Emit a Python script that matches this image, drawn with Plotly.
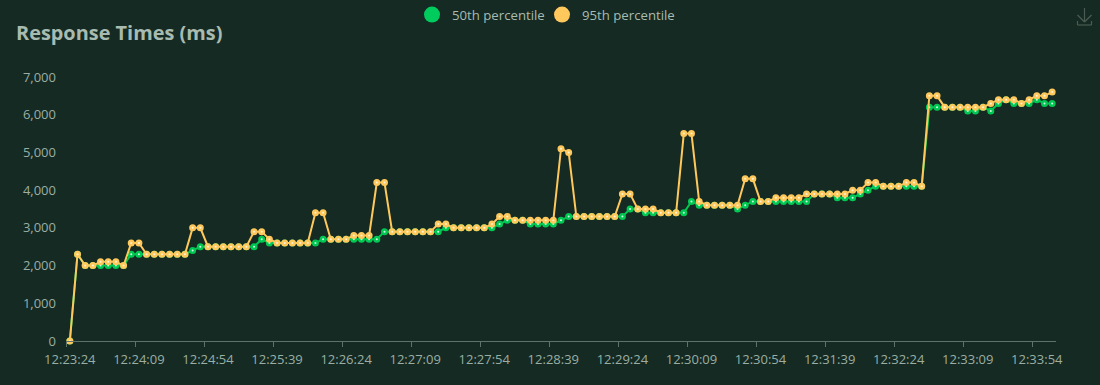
import plotly.graph_objects as go

times = []
_s = 12 * 3600 + 23 * 60 + 24
for _i in range(129):
    _t = _s + 5 * _i
    times.append(f"{_t // 3600:02d}:{_t % 3600 // 60:02d}:{_t % 60:02d}")

p50 = [0, 2300, 2000, 2000, 2000, 2000, 2000, 2000, 2300, 2300,
       2300, 2300, 2300, 2300, 2300, 2300, 2400, 2500, 2500, 2500,
       2500, 2500, 2500, 2500, 2500, 2700, 2600, 2600, 2600, 2600,
       2600, 2600, 2600, 2700, 2700, 2700, 2700, 2700, 2700, 2700,
       2700, 2900, 2900, 2900, 2900, 2900, 2900, 2900, 2900, 3000,
       3000, 3000, 3000, 3000, 3000, 3000, 3100, 3200, 3200, 3200,
       3100, 3100, 3100, 3100, 3200, 3300, 3300, 3300, 3300, 3300,
       3300, 3300, 3300, 3500, 3500, 3400, 3400, 3400, 3400, 3400,
       3400, 3700, 3600, 3600, 3600, 3600, 3600, 3500, 3600, 3700,
       3700, 3700, 3700, 3700, 3700, 3700, 3700, 3900, 3900, 3900,
       3800, 3800, 3800, 3900, 4000, 4100, 4100, 4100, 4100, 4100,
       4100, 4100, 6200, 6200, 6200, 6200, 6200, 6100, 6100, 6200,
       6100, 6300, 6400, 6300, 6300, 6300, 6400, 6300, 6300]
p95 = [0, 2300, 2000, 2000, 2100, 2100, 2100, 2000, 2600, 2600,
       2300, 2300, 2300, 2300, 2300, 2300, 3000, 3000, 2500, 2500,
       2500, 2500, 2500, 2500, 2900, 2900, 2700, 2600, 2600, 2600,
       2600, 2600, 3400, 3400, 2700, 2700, 2700, 2800, 2800, 2800,
       4200, 4200, 2900, 2900, 2900, 2900, 2900, 2900, 3100, 3100,
       3000, 3000, 3000, 3000, 3000, 3100, 3300, 3300, 3200, 3200,
       3200, 3200, 3200, 3200, 5100, 5000, 3300, 3300, 3300, 3300,
       3300, 3300, 3900, 3900, 3500, 3500, 3500, 3400, 3400, 3400,
       5500, 5500, 3700, 3600, 3600, 3600, 3600, 3600, 4300, 4300,
       3700, 3700, 3800, 3800, 3800, 3800, 3900, 3900, 3900, 3900,
       3900, 3900, 4000, 4000, 4200, 4200, 4100, 4100, 4100, 4200,
       4200, 4100, 6500, 6500, 6200, 6200, 6200, 6200, 6200, 6200,
       6300, 6400, 6400, 6400, 6300, 6400, 6500, 6500, 6600]
series_names = ["50th percentile", "95th percentile"]

BG = "#152a22"
TEXT = "#a8bbb1"
TICK = "#9aaea4"
AXIS = "#5d7268"
GREEN = "#00c853"
YELLOW = "#ffc85c"
PALE_G = "#d5f8e3"
PALE_Y = "#fff4dc"
FONT = "Open Sans, Noto Sans, sans-serif"

fig = go.Figure()
for name, vals, col, pale in [(series_names[0], p50, GREEN, PALE_G),
                              (series_names[1], p95, YELLOW, PALE_Y)]:
    fig.add_trace(go.Scatter(
        x=times, y=vals, name=name, mode="lines+markers", showlegend=False,
        line=dict(color=col, width=2),
        marker=dict(size=4.5, color=pale, line=dict(color=col, width=2.5)),
    ))
for name, col, leg in [(series_names[0], "#00cc5e", "legend"), (series_names[1], YELLOW, "legend2")]:
    fig.add_trace(go.Scatter(
        x=[None], y=[None], name=name, mode="markers", legend=leg,
        marker=dict(size=16, color=col),
    ))

icon = "#4a5c54"
shapes = []
def px(x):
    return (x - 66) / (1056 - 66)
def py(y):
    return (341 - y) / (341 - 77)
for (x0, y0, x1, y1) in [(1084.5, 8, 1084.5, 22), (1077.5, 15, 1084.5, 22),
                         (1084.5, 22, 1091.5, 15), (1077.5, 21, 1077.5, 25),
                         (1077.5, 25, 1091.5, 25), (1091.5, 25, 1091.5, 21)]:
    shapes.append(dict(type="line", xref="paper", yref="paper",
                       x0=px(x0), y0=py(y0), x1=px(x1), y1=py(y1),
                       line=dict(color=icon, width=1.2)))

def leg(x):
    return dict(orientation="h", x=x / 1100, xref="container", xanchor="left",
                y=1 - 15 / 385, yref="container", yanchor="middle",
                bgcolor="rgba(0,0,0,0)", font=dict(size=13.2, color=TEXT),
                itemclick=False, itemdoubleclick=False)

fig.update_layout(
    width=1100, height=385,
    margin=dict(l=66, r=44, t=77, b=44, pad=0),
    paper_bgcolor=BG, plot_bgcolor=BG,
    font=dict(family=FONT, size=13, color=TICK),
    showlegend=True,
    hovermode=False,
    title=dict(text="<b>Response Times (ms)</b>", x=16 / 1100, xref="container", xanchor="left",
               y=1 - 33 / 385, yref="container", yanchor="middle",
               font=dict(family=FONT, size=19.9, color=TEXT)),
    legend=leg(412),
    legend2=leg(542),
    xaxis=dict(type="category", categoryorder="array", categoryarray=times,
               range=[-0.5, 128.5], tickmode="linear", tick0=0, dtick=9,
               tickson="boundaries", ticks="outside", ticklen=5, tickwidth=1,
               tickcolor=AXIS, showline=True, linecolor=AXIS, linewidth=1,
               showgrid=False, zeroline=False, tickangle=0, ticklabelstandoff=6,
               tickfont=dict(size=13, color=TICK)),
    yaxis=dict(range=[0, 7000], tickmode="linear", tick0=0, dtick=1000,
               tickformat=",d", showgrid=False, zeroline=False, showline=False,
               ticks="", ticklabelstandoff=9, tickfont=dict(size=13, color=TICK)),
    shapes=shapes,
)
fig.update_traces(cliponaxis=False)

fig.write_html("out.html", config=dict(displayModeBar=False),
               post_script="document.body.style.margin='0';document.body.style.overflow='hidden';document.documentElement.style.background='" + BG + "';")
